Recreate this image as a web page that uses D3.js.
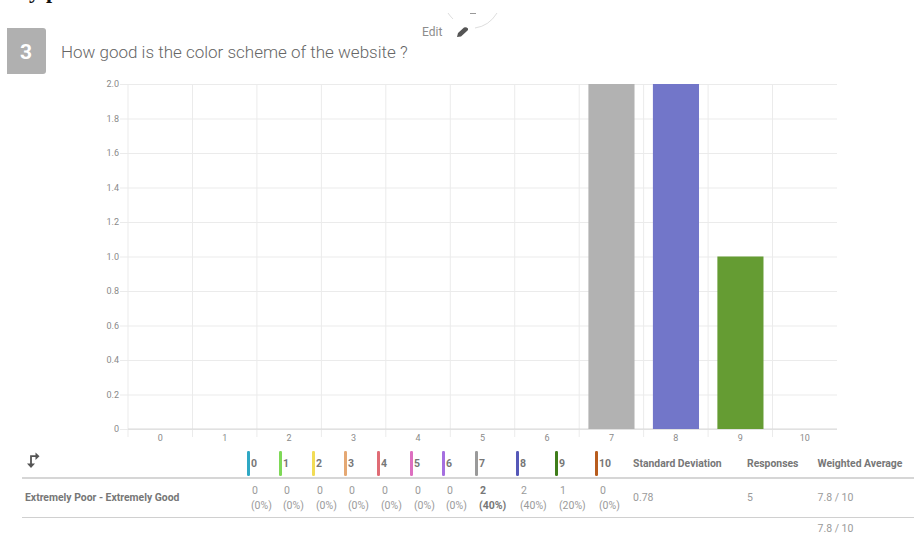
<!DOCTYPE html>
<html><head><meta charset="utf-8">
<script src="https://cdn.jsdelivr.net/npm/d3@7/dist/d3.min.js"></script>
<style>html,body{margin:0;background:#fff}svg{display:block;font-family:Roboto,sans-serif}</style>
</head><body><svg id="c" width="914" height="533"></svg>
<script>
const categories=["0","1","2","3","4","5","6","7","8","9","10"];
const counts=[0,0,0,0,0,0,0,2,2,1,0];
const percents=["0%","0%","0%","0%","0%","0%","0%","40%","40%","20%","0%"];
const barColors=["#2fa8c4","#7ed957","#f2dc55","#e5a873","#e06c75","#dd6fc0","#a56fe0","#b2b2b2","#7276c9","#659c33","#b85c1e"];
const legendColors=["#2fa8c4","#7ed957","#f2dc55","#e5a873","#e06c75","#dd6fc0","#a56fe0","#9a9a9a","#5558b8","#3f7d1a","#b85c1e"];
const legendX=[247,279,312,344,377,410,442,475,516,555,595];
const yTicks=[0,0.2,0.4,0.6,0.8,1.0,1.2,1.4,1.6,1.8,2.0];
const stats=[["Standard Deviation","0.78",633],["Responses","5",747],["Weighted Average","7.8 / 10",817.5]];
const rowLabel="Extremely Poor - Extremely Good";
const question="How good is the color scheme of the website ?";

const svg=d3.select("#c");
const x=d3.scaleBand().domain(categories).range([128,837]).paddingInner(0.285).paddingOuter(0.14);
const xGrid=d3.scaleLinear().domain([0,categories.length]).range([128,837]);
const y=d3.scaleLinear().domain([0,2]).range([429,84]);
const G="#ebebeb";

// clipped page fragment at top
svg.append("text").attr("x",29).attr("y",-2).attr("font-family","Liberation Serif").attr("font-size",22).attr("font-weight",700).attr("letter-spacing",6).attr("fill","#111").text("yp");
svg.append("path").attr("d","M448,13 Q450,16 453,19").attr("fill","none").attr("stroke","#d4d4d4").attr("stroke-width",0.8);
svg.append("path").attr("d","M497,13 Q489,26 475,28").attr("fill","none").attr("stroke","#d4d4d4").attr("stroke-width",0.8);
svg.append("path").attr("d","M470,13.5h6").attr("stroke","#999").attr("stroke-width",1);

// header
svg.append("text").attr("x",422).attr("y",36).attr("font-size",12).attr("fill","#8c8c8c").text("Edit");
svg.append("path").attr("d","M457,37 L458,33 L464,27.5 Q466,26.5 468,28.5 Q468.5,30 467,31 L461,36.5 Z").attr("fill","#555");
svg.append("path").attr("d","M7,28 H43 a3,3 0 0 1 3,3 V71 a3,3 0 0 1 -3,3 H7 Z").attr("fill","#b0b0b0");
svg.append("text").attr("x",26).attr("y",59).attr("text-anchor","middle").attr("font-size",21).attr("font-weight",700).attr("fill","#fff").text("3");
svg.append("text").attr("x",61).attr("y",58).attr("font-size",17).attr("font-weight",300).attr("fill","#666").text(question);

// horizontal grid and y labels
const gy=svg.append("g").attr("transform","translate(128,0)")
 .call(d3.axisLeft(y).tickValues(yTicks).tickSize(-709).tickPadding(1).tickFormat(d=>d===0?"0":d3.format(".1f")(d)));
gy.select(".domain").remove();
gy.selectAll(".tick line").attr("stroke",G).attr("x1",-8);
gy.selectAll(".tick text").attr("font-size",9).attr("font-family","Roboto").attr("fill","#8a8a8a").attr("x",-9);

// vertical grid
svg.append("g").selectAll("line").data(d3.range(0,categories.length)).join("line")
 .attr("x1",d=>xGrid(d)).attr("x2",d=>xGrid(d)).attr("y1",84).attr("y2",437).attr("stroke",G);
svg.append("line").attr("x1",128).attr("x2",837).attr("y1",429).attr("y2",429).attr("stroke","#d8d8d8");

// bars
svg.append("g").selectAll("rect").data(categories).join("rect")
 .attr("x",d=>x(d)).attr("width",x.bandwidth())
 .attr("y",(d,i)=>y(counts[i])).attr("height",(d,i)=>y(0)-y(counts[i]))
 .attr("fill",(d,i)=>barColors[i]);

// x labels
const gx=svg.append("g").attr("transform","translate(0,429)")
 .call(d3.axisBottom(d3.scaleBand().domain(categories).range([128,837])).tickSize(0).tickPadding(6));
gx.select(".domain").remove();
gx.selectAll("text").attr("font-size",9).attr("font-family","Roboto").attr("fill","#8a8a8a");

// swap icon
const ic=svg.append("g");
ic.append("path").attr("d","M31,464 V456.2 H36").attr("fill","none").attr("stroke","#555").attr("stroke-width",1.8);
ic.append("path").attr("d","M27,463.5 H35 L31,468 Z").attr("fill","#555");
ic.append("path").attr("d","M35.5,452.5 L39.5,456.2 L35.5,460 Z").attr("fill","#555");

// table
const leg=svg.append("g").selectAll("g").data(categories).join("g").attr("transform",(d,i)=>`translate(${legendX[i]},0)`);
leg.append("rect").attr("x",0).attr("y",451).attr("width",3).attr("height",25).attr("rx",1.2).attr("fill",(d,i)=>legendColors[i]);
leg.append("text").attr("x",4).attr("y",467).attr("font-size",10.5).attr("font-weight",700).attr("fill","#777").text(d=>d);

svg.append("line").attr("x1",22).attr("x2",914).attr("y1",478).attr("y2",478).attr("stroke","#c8c8c8").attr("stroke-width",1.5);
svg.append("line").attr("x1",22).attr("x2",914).attr("y1",517.5).attr("y2",517.5).attr("stroke","#d0d0d0");

svg.append("text").attr("x",25).attr("y",501).attr("font-size",10.4).attr("font-weight",700).attr("fill","#777").text(rowLabel);

const cell=svg.append("g").selectAll("g").data(categories).join("g").attr("transform",(d,i)=>`translate(${legendX[i]+4},0)`);
const isBold=i=>i===7;
cell.append("text").attr("x",1).attr("y",494).attr("font-size",10.5)
 .attr("font-weight",(d,i)=>isBold(i)?700:400).attr("fill",(d,i)=>isBold(i)?"#777":"#9a9a9a").text((d,i)=>counts[i]);
cell.append("text").attr("x",0).attr("y",509).attr("font-size",10.5)
 .attr("font-weight",(d,i)=>isBold(i)?700:400).attr("fill",(d,i)=>isBold(i)?"#777":"#9a9a9a").text((d,i)=>`(${percents[i]})`);

stats.forEach(s=>{
 svg.append("text").attr("x",s[2]).attr("y",467).attr("font-size",10.4).attr("font-weight",700).attr("fill","#777").text(s[0]);
 svg.append("text").attr("x",s[2]).attr("y",501).attr("font-size",10.5).attr("fill","#9a9a9a").text(s[1]);
});
svg.append("text").attr("x",817.5).attr("y",532).attr("font-size",10.5).attr("fill","#9a9a9a").text("7.8 / 10");
</script></body></html>
